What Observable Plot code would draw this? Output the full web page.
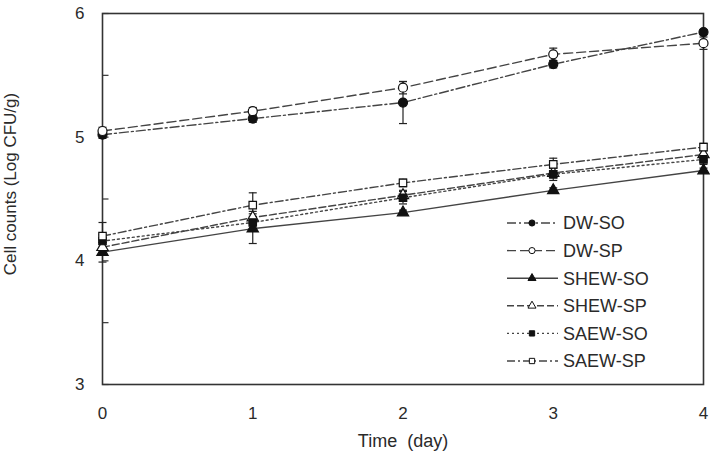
<!DOCTYPE html>
<html>
<head>
<meta charset="utf-8">
<script src="https://cdn.jsdelivr.net/npm/d3@7"></script>
<script src="https://cdn.jsdelivr.net/npm/@observablehq/plot@0.6"></script>
<style>
  body { margin: 0; background: #fff; }
  #chart { position: relative; width: 710px; height: 457px; font-family: "Liberation Sans", Arial, sans-serif; overflow: hidden; }
  #chart svg { position: absolute; left: 0; top: 0; }
</style>
</head>
<body>
<div id="chart"></div>
<script>
// Storage time (days)
const days = [0, 1, 2, 3, 4];

// Treatment names
const seriesNames = ["DW-SO", "DW-SP", "SHEW-SO", "SHEW-SP", "SAEW-SO", "SAEW-SP"];

// Mean cell counts (log CFU/g)
const dwSO   = [5.02, 5.15, 5.28, 5.59, 5.85];
const dwSP   = [5.05, 5.21, 5.40, 5.67, 5.76];
const shewSO = [4.07, 4.26, 4.39, 4.57, 4.73];
const shewSP = [4.11, 4.35, 4.53, 4.71, 4.86];
const saewSO = [4.16, 4.31, 4.51, 4.70, 4.82];
const saewSP = [4.20, 4.45, 4.63, 4.78, 4.92];

// Standard deviations
const dwSOErr   = [0.03, 0.03, 0.17, 0.03, 0.02];
const dwSPErr   = [0.03, 0.03, 0.05, 0.05, 0.05];
const shewSOErr = [0.08, 0.12, 0.02, 0.02, 0.02];
const shewSPErr = [0.04, 0.05, 0.04, 0.04, 0.05];
const saewSOErr = [0.05, 0.05, 0.05, 0.05, 0.04];
const saewSPErr = [0.11, 0.10, 0.03, 0.05, 0.03];

// Axis ticks
const xTicks = [0, 1, 2, 3, 4];
const yTicks = [3, 4, 5, 6];
const yTickMarks = [3, 3.5, 4, 4.5, 5, 5.5, 6];

const means = [dwSO, dwSP, shewSO, shewSP, saewSO, saewSP];
const errs  = [dwSOErr, dwSPErr, shewSOErr, shewSPErr, saewSOErr, saewSPErr];

// Line and marker style for each treatment
const styles = {
  "DW-SO":   {dash: "9,3,2,3",     symbol: "circle",   filled: true},
  "DW-SP":   {dash: "9,4",         symbol: "circle",   filled: false},
  "SHEW-SO": {dash: null,          symbol: "triangle", filled: true},
  "SHEW-SP": {dash: "7,3",         symbol: "triangle", filled: false},
  "SAEW-SO": {dash: "2,3",         symbol: "square",   filled: true},
  "SAEW-SP": {dash: "8,3,2,3",     symbol: "square",   filled: false}
};

const rows = seriesNames.flatMap((name, s) =>
  days.map((d, i) => ({series: name, day: d, value: means[s][i], err: errs[s][i]}))
);

// Horizontal stroke used as error-bar cap
const capSymbol = {draw(ctx) { ctx.moveTo(-4, 0); ctx.lineTo(4, 0); }};
// Short inward tick on the left frame edge
const inTick = {draw(ctx) { ctx.moveTo(0, 0); ctx.lineTo(6, 0); }};

const lineColor = "#444";
const textColor = "#2a2a2a";

const marks = [
  Plot.frame({stroke: "#333", strokeWidth: 1.6}),
  Plot.dot(yTickMarks, {y: d => d, frameAnchor: "left", symbol: inTick, r: 4, stroke: "#333", strokeWidth: 1.2}),
  Plot.axisY(yTicks, {tickSize: 0, tickPadding: 18, fontSize: 17, fill: textColor, tickFormat: d3.format("d"), label: null}),
  Plot.axisX(xTicks, {tickSize: 0, tickPadding: 22, fontSize: 17, fill: textColor, tickFormat: d3.format("d"), label: null}),
  Plot.text(["Time\u00a0 (day)"], {frameAnchor: "bottom", dy: 62, fontSize: 18, fill: textColor}),
  Plot.text(["Cell counts (Log CFU/g)"], {frameAnchor: "left", textAnchor: "middle", dx: -92, dy: -15, rotate: -90, fontSize: 17, fill: textColor})
];

for (const name of seriesNames) {
  const st = styles[name];
  const data = rows.filter(r => r.series === name);
  marks.push(Plot.line(data, {x: "day", y: "value", stroke: lineColor, strokeWidth: 1.4, strokeDasharray: st.dash}));
}
for (const name of seriesNames) {
  const data = rows.filter(r => r.series === name);
  marks.push(Plot.ruleX(data, {x: "day", y1: d => d.value - d.err, y2: d => d.value + d.err, stroke: "#222", strokeWidth: 1.2}));
  marks.push(Plot.dot(data, {x: "day", y: d => d.value - d.err, symbol: capSymbol, r: 4, stroke: "#222", strokeWidth: 1.2}));
  marks.push(Plot.dot(data, {x: "day", y: d => d.value + d.err, symbol: capSymbol, r: 4, stroke: "#222", strokeWidth: 1.2}));
}
for (const name of seriesNames) {
  const st = styles[name];
  const data = rows.filter(r => r.series === name);
  marks.push(Plot.dot(data, {
    x: "day", y: "value", symbol: st.symbol, r: st.symbol === "circle" ? 4.5 : 4.2,
    fill: st.filled ? "#111" : "#fff", stroke: "#111", strokeWidth: 1.2
  }));
}

const chart = Plot.plot({
  width: 710,
  height: 457,
  marginLeft: 102,
  marginRight: 7,
  marginTop: 13,
  marginBottom: 73,
  style: {fontFamily: '"Liberation Sans", Arial, sans-serif', background: "#fff", overflow: "visible"},
  x: {domain: [0, 4], axis: null},
  y: {domain: [3, 6], axis: null},
  marks
});

const root = document.getElementById("chart");
root.appendChild(chart);

// Legend
const legend = d3.select(root).append("svg")
  .attr("width", 710).attr("height", 457)
  .style("pointer-events", "none")
  .style("font-family", '"Liberation Sans", Arial, sans-serif');

const symbolGen = {circle: d3.symbolCircle, triangle: d3.symbolTriangle, square: d3.symbolSquare};
seriesNames.forEach((name, i) => {
  const st = styles[name];
  const cy = 223 + i * 27.6;
  const g = legend.append("g").attr("transform", `translate(0,${cy})`);
  g.append("line").attr("x1", 507).attr("x2", 558).attr("y1", 0).attr("y2", 0)
    .attr("stroke", lineColor).attr("stroke-width", 1.4)
    .attr("stroke-dasharray", st.dash);
  g.append("path")
    .attr("transform", "translate(532,0)")
    .attr("d", d3.symbol(symbolGen[st.symbol], st.symbol === "circle" ? 30 : 28)())
    .attr("fill", st.filled ? "#111" : "#fff")
    .attr("stroke", "#111").attr("stroke-width", 1);
  g.append("text").attr("x", 563).attr("y", 0).attr("dy", "0.36em")
    .attr("font-size", 18).attr("fill", textColor).text(name);
});
</script>
</body>
</html>
